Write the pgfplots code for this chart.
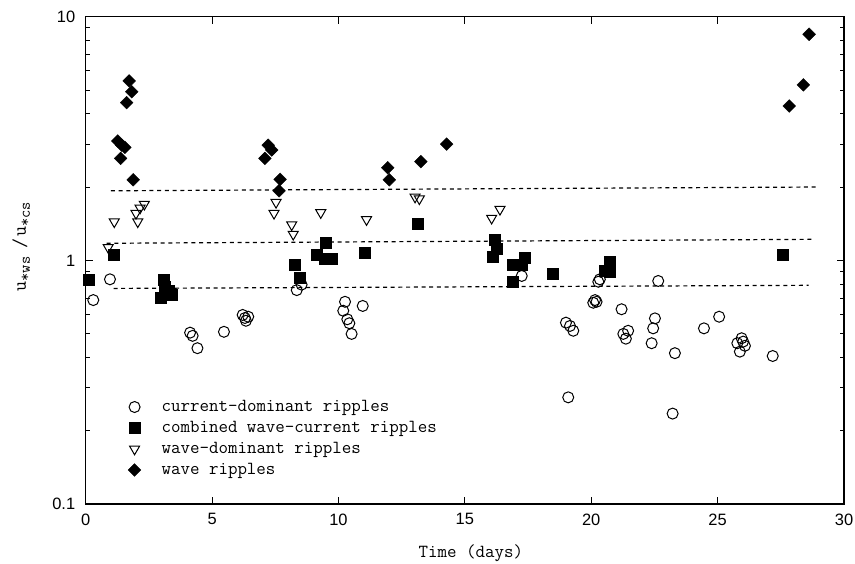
\documentclass[border=0pt]{standalone}
\usepackage{pgfplots}
\pgfplotsset{compat=1.18}
\usepackage{fontspec}
\setmainfont{Liberation Sans}
\newcommand{\sub}[1]{\raisebox{-4bp}{\fontsize{16}{16}\selectfont #1}}
\begin{document}
\begin{tikzpicture}
\path[use as bounding box] (-85.7bp,-60bp) rectangle (769.3bp,504bp);
\begin{axis}[
  at={(0,0)}, anchor=south west,
  scale only axis, width=758.3bp, height=487.3bp,
  xmin=0, xmax=30, ymode=log, ymin=0.1, ymax=10,
  xtick={0,5,...,30},
  ytick={0.1,1,10}, yticklabels={0.1,1,10},
  minor ytick={0.2,0.3,0.4,0.5,0.6,0.7,0.8,0.9,2,3,4,5,6,7,8,9},
  major tick length=7bp, minor tick length=4bp,
  tick style={black, line width=0.9bp},
  axis line style={line width=1.2bp},
  /pgf/number format/assume math mode=true,
  ticklabel style={font=\fontsize{16.5}{19}\selectfont},
  xticklabel style={yshift=-6bp},
  yticklabel style={xshift=-7bp},
  xlabel={Time (days)},
  ylabel={u\sub{*ws}\hspace{8bp}/\hspace{2bp}u\sub{*cs}},
  label style={font=\ttfamily\fontsize{18.5}{21}\selectfont},
  xlabel style={at={(axis description cs:0.508,-0.1006)}, anchor=center},
  ylabel style={at={(axis description cs:-0.085,0.528)}, anchor=center, font=\ttfamily\fontsize{19.5}{21}\selectfont},
  legend style={draw=none, fill=none, inner sep=0pt,
    at={(axis description cs:0.053,0.221)}, anchor=north west,
    font=\ttfamily\fontsize{18.5}{21}\selectfont,
    nodes={text height=12bp, text depth=4bp, inner sep=2.5bp}},
  legend cell align=left,
  legend image code/.code={\path[draw=none,fill=none] (0bp,-5bp) rectangle (33bp,5bp); \draw[#1] plot coordinates {(8.5bp,0bp)};},
]
% dashed reference lines
\addplot[forget plot, black, line width=1.2bp, dash pattern=on 4bp off 3.7bp] coordinates {(1.0,1.93) (28.9,2.0)};
\addplot[forget plot, black, line width=1.2bp, dash pattern=on 4bp off 3.7bp] coordinates {(0.83,1.175) (28.85,1.22)};
\addplot[forget plot, black, line width=1.2bp, dash pattern=on 4bp off 3.7bp] coordinates {(1.1,0.767) (28.6,0.79)};

% current-dominant ripples
\addplot[only marks, mark=o, mark size=5.5bp, black, mark options={line width=1bp}] coordinates {
(0.30,0.687) (0.96,0.836) (4.13,0.505) (4.23,0.49) (4.42,0.436) (5.47,0.509)
(6.21,0.597) (6.43,0.587) (6.34,0.565) (6.30,0.58) (8.35,0.755) (8.54,0.795)
(10.26,0.676) (10.19,0.621) (10.35,0.573) (10.43,0.552) (10.52,0.499) (10.96,0.650)
(17.25,0.863) (19.00,0.555) (19.16,0.538) (19.29,0.514) (19.09,0.274)
(20.08,0.670) (20.15,0.687) (20.21,0.676) (20.28,0.817) (20.34,0.836)
(21.20,0.630) (21.27,0.499) (21.46,0.514) (21.37,0.477)
(22.39,0.457) (22.45,0.526) (22.52,0.578) (22.65,0.823) (23.22,0.235) (23.31,0.416)
(24.46,0.526) (25.06,0.587) (25.78,0.457) (25.88,0.422) (25.95,0.479) (26.01,0.464)
(26.08,0.446) (27.18,0.405)
};
\addlegendentry{current-dominant ripples}
% combined wave-current ripples
\addplot[only marks, mark=square*, mark size=5.5bp, black] coordinates {
(0.10,0.836) (1.09,1.05) (3.07,0.83) (3.14,0.78) (3.30,0.75) (3.40,0.72) (2.98,0.70)
(8.28,0.957) (8.46,0.852) (9.15,1.05) (9.45,1.02) (9.75,1.02) (9.51,1.18)
(11.02,1.075) (13.12,1.42) (16.19,1.21) (16.26,1.12) (16.12,1.035)
(16.91,0.957) (17.25,0.957) (17.38,1.03) (16.91,0.817) (18.47,0.885)
(20.54,0.91) (20.74,0.898) (20.72,0.99) (27.57,1.05)
};
\addlegendentry{combined wave-current ripples}
% wave-dominant ripples
\addplot[only marks, mark=triangle, mark size=5.8bp, black, mark options={rotate=180, line width=1bp}] coordinates {
(0.89,1.13) (1.13,1.44) (1.99,1.56) (2.06,1.44) (2.15,1.64) (2.32,1.70)
(7.45,1.56) (7.53,1.73) (8.15,1.40) (8.21,1.28) (9.30,1.57) (11.11,1.47)
(13.03,1.82) (13.20,1.79) (16.06,1.49) (16.39,1.62)
};
\addlegendentry{wave-dominant ripples}
% wave ripples
\addplot[only marks, mark=square*, mark size=4.5bp, black, mark options={rotate=45}] coordinates {
(1.27,3.09) (1.38,2.62) (1.42,2.97) (1.55,2.91) (1.62,4.44) (1.72,5.45) (1.82,4.92) (1.88,2.14)
(7.09,2.62) (7.22,2.97) (7.36,2.84) (7.65,1.93) (7.69,2.15)
(11.95,2.40) (12.01,2.14) (13.26,2.54) (14.28,3.00)
(27.83,4.30) (28.39,5.25) (28.62,8.47)
};
\addlegendentry{wave ripples}
\end{axis}
\end{tikzpicture}
\end{document}
